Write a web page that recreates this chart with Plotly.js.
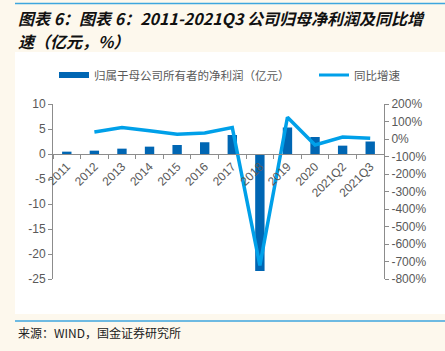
<!DOCTYPE html>
<html>
<head>
<meta charset="utf-8">
<script src="https://cdn.plot.ly/plotly-3.0.1.min.js"></script>
<style>html,body{margin:0;padding:0;background:#fdf8ed;}#chart{width:445px;height:351px;}</style>
</head>
<body>
<div id="chart"></div>
<script>
const categories = ['2011','2012','2013','2014','2015','2016','2017','2018','2019','2020','2021Q2','2021Q3'];
const netProfit = [0.47, 0.67, 1.07, 1.47, 1.8, 2.35, 3.8, -23.4, 5.3, 3.4, 1.67, 2.5];
const yoyGrowth = [null, 40, 65, 47, 27, 34, 65, -722, 124, -34, 11, 4];
const barName = '归属于母公司所有者的净利润（亿元）';
const lineName = '同比增速';
const leftTicks = [-25, -20, -15, -10, -5, 0, 5, 10];
const rightTicks = [-800, -700, -600, -500, -400, -300, -200, -100, 0, 100, 200];
const titleLine1 = '图表 6：图表 6：2011-2021Q3 公司归母净利润及同比增';
const titleLine2 = '速（亿元，%）';
const sourceText = '来源：WIND，国金证券研究所';

const W = 445, H = 351, L = 53, R = 61, T = 104, B = 72;
const pw = W - L - R, ph = H - T - B;
const px = x => (x - L) / pw;
const py = y => (H - B - y) / ph;

const barColor = '#0066b3';
const lineColor = '#00a0e9';
const axisColor = '#8c8c8c';
const textColor = '#595959';
const tickFont = {family: 'Liberation Sans, Arial, sans-serif', size: 12, color: textColor};
const legendFont = {family: 'Noto Sans CJK SC, sans-serif', size: 11.5, color: textColor};
const titleFont = {family: 'Noto Sans CJK SC, Liberation Sans, sans-serif', size: 16, color: '#111'};

const traces = [
  {type: 'bar', x: categories, y: netProfit, marker: {color: barColor}, showlegend: false, hoverinfo: 'skip'},
  {type: 'scatter', mode: 'lines', x: categories, y: yoyGrowth, yaxis: 'y2', line: {color: lineColor, width: 3.5}, showlegend: false, connectgaps: false},
  {type: 'scatter', mode: 'lines', x: [null], y: [null], name: barName, line: {color: barColor, width: 6}, legend: 'legend'},
  {type: 'scatter', mode: 'lines', x: [null], y: [null], name: lineName, line: {color: lineColor, width: 3}, legend: 'legend2'}
];

const layout = {
  width: W, height: H,
  margin: {l: L, r: R, t: T, b: B, pad: 0},
  paper_bgcolor: '#fdf8ed',
  plot_bgcolor: 'rgba(0,0,0,0)',
  bargap: 0.66,
  showlegend: true,
  legend: {orientation: 'h', x: px(54), y: py(75), xanchor: 'left', yanchor: 'middle',
    font: legendFont, bgcolor: 'rgba(0,0,0,0)', itemwidth: 30},
  legend2: {orientation: 'h', x: px(314), y: py(75), xanchor: 'left', yanchor: 'middle',
    font: legendFont, bgcolor: 'rgba(0,0,0,0)', itemwidth: 30},
  xaxis: {type: 'category', anchor: 'free', position: 25/35, range: [-0.5, 11.5],
    showline: true, linecolor: axisColor, linewidth: 1, ticks: 'outside', tickson: 'boundaries', ticklen: 4, tickcolor: axisColor,
    tickangle: -45, tickfont: tickFont, showgrid: false, zeroline: false, fixedrange: true, layer: 'above traces'},
  yaxis: {range: [-25, 10], tickvals: leftTicks, ticktext: leftTicks.map(String), showline: true, linecolor: axisColor,
    ticks: 'outside', ticklen: 4, tickcolor: axisColor, tickfont: tickFont, showgrid: false, zeroline: false},
  yaxis2: {range: [-800, 200], overlaying: 'y', side: 'right', tickvals: rightTicks, ticktext: rightTicks.map(v => v + '%'),
    showline: true, linecolor: axisColor, ticks: 'outside', ticklen: 4, tickcolor: axisColor, tickfont: tickFont,
    showgrid: false, zeroline: false},
  shapes: [
    {type: 'rect', xref: 'paper', yref: 'paper', x0: px(15), x1: px(446), y0: py(314), y1: py(52), fillcolor: '#ffffff', line: {width: 0}, layer: 'below'},
    {type: 'line', xref: 'paper', yref: 'paper', x0: px(15), x1: px(446), y0: py(3.5), y1: py(3.5), line: {color: '#3ea6de', width: 1.5}},
    {type: 'line', xref: 'paper', yref: 'paper', x0: px(15), x1: px(446), y0: py(321), y1: py(321), line: {color: '#3ea6de', width: 1.5}}
  ],
  annotations: [
    {xref: 'paper', yref: 'paper', x: px(16), y: py(18.5), xanchor: 'left', yanchor: 'middle', showarrow: false,
      text: '<b><i>' + titleLine1 + '</i></b>', font: titleFont},
    {xref: 'paper', yref: 'paper', x: px(16), y: py(41.5), xanchor: 'left', yanchor: 'middle', showarrow: false,
      text: '<b><i>' + titleLine2 + '</i></b>', font: titleFont},
    {xref: 'paper', yref: 'paper', x: px(16), y: py(332), xanchor: 'left', yanchor: 'middle', showarrow: false,
      text: sourceText, font: {family: 'Noto Sans CJK SC, Liberation Sans, sans-serif', size: 12, color: '#222'}}
  ]
};

Plotly.newPlot('chart', traces, layout, {staticPlot: true, displayModeBar: false});
</script>
</body>
</html>
